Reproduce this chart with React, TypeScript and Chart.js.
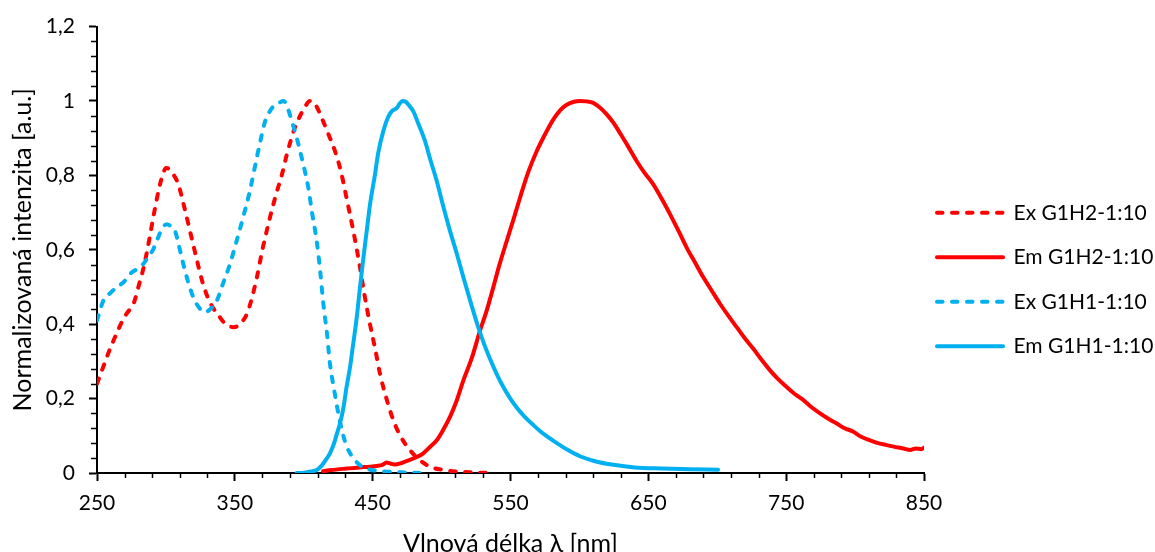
import React, { useEffect, useRef } from 'react';
import { Chart, registerables } from 'chart.js';

Chart.register(...registerables);

const X_TICKS = [250, 350, 450, 550, 650, 750, 850];
const Y_TICKS = [0, 0.2, 0.4, 0.6, 0.8, 1, 1.2];
const SERIES_LABELS = ['Ex G1H2-1:10', 'Em G1H2-1:10', 'Ex G1H1-1:10', 'Em G1H1-1:10'];

const EX_G1H2_NM = [250, 254, 258, 262, 266, 270, 274, 277, 280, 283, 286, 289, 292, 295, 298, 300, 302, 305, 309, 313, 317.5, 322, 326, 330, 334, 338, 342, 346, 349, 352, 356, 359, 362, 366, 370, 375.5, 380, 384, 388, 393.7, 398, 401, 404.5, 407, 410, 414, 418, 422.7, 427, 431, 436, 440.8, 444, 448, 452, 455.3, 460, 465, 470, 477, 484, 491.6, 500, 508, 520, 536];
const EX_G1H2_VAL = [0.24, 0.28, 0.32, 0.356, 0.39, 0.42, 0.441, 0.46, 0.5, 0.54, 0.59, 0.65, 0.71, 0.765, 0.805, 0.82, 0.818, 0.805, 0.776, 0.72, 0.65, 0.58, 0.52, 0.475, 0.445, 0.425, 0.405, 0.395, 0.392, 0.395, 0.41, 0.43, 0.465, 0.526, 0.6, 0.687, 0.75, 0.8, 0.86, 0.93, 0.965, 0.985, 1.0, 0.998, 0.98, 0.946, 0.91, 0.865, 0.81, 0.74, 0.65, 0.553, 0.48, 0.401, 0.33, 0.267, 0.2, 0.142, 0.1, 0.062, 0.035, 0.017, 0.009, 0.005, 0.002, 0.0];

const EM_G1H2_NM = [414, 420, 431, 440, 448, 453, 457, 460, 463, 466, 471, 477, 482, 486.7, 491, 496.5, 501, 506.1, 511, 515.8, 522, 527.9, 533, 537.5, 542, 547.3, 552, 556.9, 563, 569, 575, 581, 586, 590.8, 596, 600.4, 605, 610, 615, 619.8, 625, 629.4, 635, 641.6, 647, 653.6, 660, 665.7, 672, 677.8, 684, 689.9, 696, 702, 708, 714.1, 720, 726.2, 732, 738.3, 744, 750.4, 756, 762.5, 768, 774.6, 780, 786.7, 792, 798.7, 804, 810.8, 816, 822.9, 828, 835, 840, 844, 848, 850];
const EM_G1H2_VAL = [0.005, 0.008, 0.012, 0.015, 0.017, 0.019, 0.022, 0.028, 0.025, 0.023, 0.027, 0.035, 0.043, 0.053, 0.068, 0.088, 0.115, 0.151, 0.195, 0.249, 0.31, 0.383, 0.44, 0.499, 0.56, 0.624, 0.68, 0.74, 0.81, 0.865, 0.91, 0.95, 0.975, 0.99, 0.998, 1.0, 0.999, 0.995, 0.982, 0.964, 0.94, 0.914, 0.88, 0.838, 0.808, 0.776, 0.735, 0.696, 0.65, 0.606, 0.565, 0.526, 0.49, 0.455, 0.423, 0.392, 0.362, 0.334, 0.305, 0.276, 0.253, 0.231, 0.213, 0.196, 0.178, 0.16, 0.147, 0.133, 0.121, 0.111, 0.098, 0.088, 0.081, 0.075, 0.071, 0.066, 0.062, 0.066, 0.064, 0.068];

const EX_G1H1_NM = [250, 254.6, 260, 264.3, 269, 272, 275.2, 280, 283.6, 287, 290.9, 294, 297, 300.6, 303, 306.6, 309.5, 312.6, 316, 319.9, 324, 328.4, 332, 336.9, 341, 346.5, 351, 356, 361, 365.9, 369, 372, 375, 378, 382, 385.5, 388, 391, 394.9, 399, 403.3, 406, 409.4, 412, 414.2, 417, 419, 422, 425.1, 428, 431.2, 435, 440.8, 447, 455, 470, 484];
const EX_G1H1_VAL = [0.41, 0.463, 0.485, 0.499, 0.512, 0.525, 0.539, 0.55, 0.562, 0.58, 0.602, 0.63, 0.655, 0.669, 0.665, 0.651, 0.61, 0.562, 0.515, 0.472, 0.445, 0.432, 0.44, 0.463, 0.505, 0.562, 0.62, 0.687, 0.76, 0.847, 0.9, 0.946, 0.97, 0.986, 0.995, 1.0, 0.985, 0.95, 0.901, 0.84, 0.767, 0.7, 0.624, 0.54, 0.455, 0.37, 0.294, 0.225, 0.16, 0.11, 0.071, 0.045, 0.021, 0.01, 0.005, 0.002, 0.0];

const EM_G1H1_NM = [394.9, 400, 405, 409.4, 413, 416, 419, 422, 424, 426.3, 429, 431, 433.6, 436, 438.5, 440.8, 443, 445.7, 448, 451.7, 454, 457.7, 461, 463.8, 467.4, 470, 471.8, 474, 476, 479.5, 483, 488, 492, 496.5, 501, 506.1, 511, 515.8, 521, 526.6, 531, 535.1, 540, 544.8, 549.5, 554.5, 560, 566.5, 572, 578.6, 585, 592, 600.4, 612, 624.6, 640, 660, 680, 700.6];
const EM_G1H1_VAL = [0.0, 0.001, 0.004, 0.008, 0.02, 0.035, 0.053, 0.08, 0.105, 0.133, 0.18, 0.23, 0.285, 0.35, 0.42, 0.499, 0.57, 0.651, 0.72, 0.803, 0.86, 0.919, 0.955, 0.972, 0.981, 0.995, 1.0, 0.998, 0.99, 0.972, 0.94, 0.892, 0.84, 0.785, 0.72, 0.651, 0.59, 0.526, 0.46, 0.392, 0.345, 0.307, 0.266, 0.231, 0.202, 0.176, 0.152, 0.129, 0.111, 0.093, 0.077, 0.061, 0.045, 0.031, 0.022, 0.015, 0.012, 0.01, 0.009];

const RED = '#FF0000';
const BLUE = '#00B0F0';
const FONT = 'Lato';
const DASH = [5.5, 9.5];

const toPoints = (xs: number[], ys: number[]) => xs.map((x, i) => ({ x, y: ys[i] }));

const minorTicks = {
  id: 'minorTicks',
  afterDraw(chart: any) {
    const { ctx, chartArea, scales } = chart;
    const xs = scales.x;
    const ys = scales.y;
    ctx.save();
    ctx.strokeStyle = '#000';
    ctx.lineWidth = 1.5;
    ctx.beginPath();
    for (let v = xs.min + 20; v < xs.max; v += 20) {
      if ((v - xs.min) % 100 === 0) continue;
      const px = Math.round(xs.getPixelForValue(v)) + 0.5;
      ctx.moveTo(px, chartArea.bottom);
      ctx.lineTo(px, chartArea.bottom + 5);
    }
    for (let k = 1; k < 30; k++) {
      if (k % 5 === 0) continue;
      const v = k * 0.04;
      const py = Math.round(ys.getPixelForValue(v)) + 0.5;
      ctx.moveTo(chartArea.left, py);
      ctx.lineTo(chartArea.left - 6, py);
    }
    ctx.stroke();
    ctx.restore();
  },
};

export default function App() {
  const ref = useRef<HTMLCanvasElement | null>(null);

  useEffect(() => {
    if (!ref.current) return;
    const dashed = { borderDash: DASH, borderCapStyle: 'round' };
    const common = { borderWidth: 4, pointRadius: 0, cubicInterpolationMode: 'monotone', fill: false };
    const chart = new Chart(ref.current, {
      type: 'line',
      data: {
        datasets: [
          { label: SERIES_LABELS[0], data: toPoints(EX_G1H2_NM, EX_G1H2_VAL), borderColor: RED, backgroundColor: RED, order: 4, ...common, ...dashed },
          { label: SERIES_LABELS[1], data: toPoints(EM_G1H2_NM, EM_G1H2_VAL), borderColor: RED, backgroundColor: RED, order: 3, ...common, borderCapStyle: 'round' },
          { label: SERIES_LABELS[2], data: toPoints(EX_G1H1_NM, EX_G1H1_VAL), borderColor: BLUE, backgroundColor: BLUE, order: 2, ...common, ...dashed },
          { label: SERIES_LABELS[3], data: toPoints(EM_G1H1_NM, EM_G1H1_VAL), borderColor: BLUE, backgroundColor: BLUE, order: 1, ...common, borderCapStyle: 'round' },
        ] as any,
      },
      options: {
        animation: false,
        responsive: false,
        layout: { padding: { top: 25, right: 0, bottom: 0, left: 0 } },
        plugins: {
          tooltip: { enabled: false },
          legend: {
            position: 'right',
            fullSize: false,
            maxWidth: 231,
            title: { display: true, text: ' ', padding: { top: 58, bottom: 0 }, font: { size: 10 } },
            labels: {
              usePointStyle: true,
              pointStyle: 'line',
              pointStyleWidth: 66,
              padding: 13,
              color: '#000',
              font: { family: FONT, size: 21, lineHeight: 1.5 },
              sort: (a: any, b: any) => a.datasetIndex - b.datasetIndex,
              generateLabels: (c: any) => {
                const base = (Chart.defaults as any).plugins.legend.labels.generateLabels(c);
                return base.map((it: any) => {
                  const ds = c.data.datasets[it.datasetIndex];
                  return {
                    ...it,
                    text: [it.text],
                    lineDash: ds.borderDash || [],
                    lineCap: 'round',
                    lineWidth: 4,
                    strokeStyle: ds.borderColor,
                    fillStyle: ds.borderColor,
                  };
                });
              },
            },
          },
        },
        scales: {
          x: {
            type: 'linear',
            min: 250,
            max: 850,
            afterBuildTicks: (s: any) => { s.ticks = X_TICKS.map((v) => ({ value: v })); },
            afterFit: (s: any) => { s.height = 92; },
            grid: { display: true, drawOnChartArea: false, drawTicks: true, tickLength: 8, tickColor: '#000', tickWidth: 2 },
            border: { display: true, color: '#000', width: 2 },
            ticks: { color: '#000', font: { family: FONT, size: 21 }, padding: 10, maxRotation: 0, autoSkip: false, callback: (v: any) => String(v) },
            title: { display: true, text: 'Vlnová délka λ [nm]', color: '#000', font: { family: FONT, size: 25 }, padding: { top: 0, bottom: 6 } },
          },
          y: {
            type: 'linear',
            min: 0,
            max: 1.2,
            afterBuildTicks: (s: any) => { s.ticks = Y_TICKS.map((v) => ({ value: v })); },
            afterFit: (s: any) => { s.width = 97; },
            grid: { display: true, drawOnChartArea: false, drawTicks: true, tickLength: 8, tickColor: '#000', tickWidth: 2 },
            border: { display: true, color: '#000', width: 2 },
            ticks: { color: '#000', font: { family: FONT, size: 21 }, padding: 14, autoSkip: false, callback: (v: any) => String(+Number(v).toFixed(1)).replace('.', ',') },
            title: { display: true, text: 'Normalizovaná intenzita [a.u.]', color: '#000', font: { family: FONT, size: 25 }, padding: { top: 8, bottom: 0 } },
          },
        },
      } as any,
      plugins: [minorTicks],
    });
    return () => chart.destroy();
  }, []);

  return (
    <div style={{ position: 'fixed', left: 0, top: 0, width: 1155, height: 565, background: '#fff' }}>
      <canvas ref={ref} width={1155} height={565} style={{ display: 'block' }} />
    </div>
  );
}
